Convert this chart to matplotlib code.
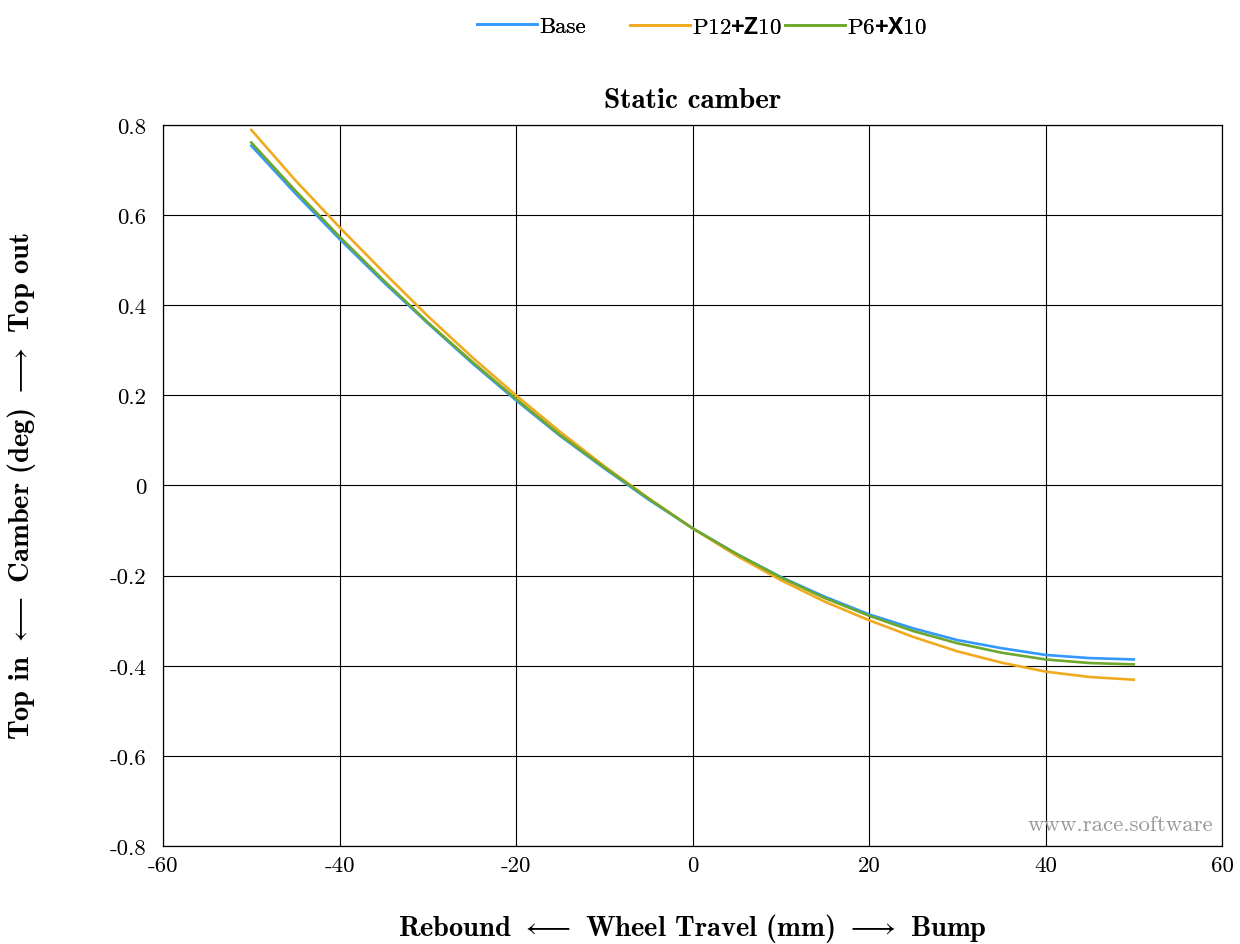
import matplotlib
matplotlib.use("Agg")
import matplotlib.pyplot as plt

plt.rcParams['font.family'] = ['cmr10', 'DejaVu Serif']
plt.rcParams['mathtext.fontset'] = 'custom'
plt.rcParams['mathtext.rm'] = 'cmr10'
plt.rcParams['mathtext.bf'] = 'cmb10'
plt.rcParams['mathtext.sf'] = 'Liberation Sans:bold'
plt.rcParams['mathtext.fallback'] = 'cm'
plt.rcParams['axes.unicode_minus'] = False

travel = [-50, -45, -40, -35, -30, -25, -20, -15, -10, -5, 0, 5, 10, 15, 20, 25, 30, 35, 40, 45, 50]
base = [0.754, 0.648, 0.547, 0.451, 0.360, 0.272, 0.189, 0.110, 0.038, -0.031, -0.095, -0.152, -0.203,
        -0.247, -0.286, -0.317, -0.343, -0.361, -0.376, -0.383, -0.386]
p12z10 = [0.789, 0.677, 0.573, 0.473, 0.376, 0.285, 0.200, 0.119, 0.043, -0.028, -0.095, -0.156, -0.210,
          -0.258, -0.299, -0.336, -0.368, -0.393, -0.413, -0.425, -0.431]
p6x10 = [0.761, 0.654, 0.552, 0.455, 0.362, 0.275, 0.192, 0.112, 0.040, -0.029, -0.095, -0.152, -0.204,
         -0.250, -0.289, -0.323, -0.350, -0.371, -0.386, -0.394, -0.397]

series_labels = ['Base', r'P12$\mathsf{+Z}$10', r'P6$\mathsf{+X}$10']
series_colors = ['#3399FF', '#F0AA1E', '#6DA72B']

xticks = [-60, -40, -20, 0, 20, 40, 60]
xticklabels = ['-60', '-40', '-20', '0', '20', '40', '60']
yticks = [-0.8, -0.6, -0.4, -0.2, 0, 0.2, 0.4, 0.6, 0.8]
yticklabels = ['-0.8', '-0.6', '-0.4', '-0.2', '0', '0.2', '0.4', '0.6', '0.8']

W, H = 1240, 945
fig = plt.figure(figsize=(W / 100, H / 100), dpi=100)
ax = fig.add_axes([0.1315, 0.1037, 0.854, 0.763])

handles = []
for ys, lab, col in zip([base, p12z10, p6x10], series_labels, series_colors):
    h, = ax.plot(travel, ys, color=col, lw=1.9, label=lab)
    handles.append(h)

ax.set_xlim(-60, 60)
ax.set_ylim(-0.8, 0.8)
ax.set_xticks(xticks)
ax.set_xticklabels(xticklabels, fontsize=16.5)
ax.set_yticks(yticks)
ax.set_yticklabels(yticklabels, fontsize=16.5)
ax.tick_params(axis='y', direction='in', length=0, pad=12)
ax.tick_params(axis='x', direction='in', length=0, pad=7)
ax.grid(True, color='black', lw=0.8)
ax.set_axisbelow(True)
for s in ax.spines.values():
    s.set_color('black')
    s.set_linewidth(0.9)

ax.set_title('Static camber', fontsize=21, family=['cmb10'], pad=13)
ax.set_xlabel(r'Rebound $\longleftarrow$ Wheel Travel (mm) $\longrightarrow$ Bump',
              fontsize=20.5, family=['cmb10'], labelpad=26)
ax.set_ylabel(r'Top in $\longleftarrow$ Camber (deg) $\longrightarrow$ Top out',
              fontsize=20.5, family=['cmb10'])
ax.yaxis.set_label_coords((38 - 163) / 1059, 0.5)

ax.text(0.992, 0.016, 'www.race.software', transform=ax.transAxes, ha='right', va='bottom',
        fontsize=16.5, color='#999999')

legend_x = [477, 630, 785]
for h, lab, lx in zip(handles, series_labels, legend_x):
    lg = fig.legend([h], [lab], loc='upper left', bbox_to_anchor=(lx / W, 1 - 17 / H),
                    frameon=False, fontsize=16.5, handlelength=2.6, handletextpad=0.1,
                    borderpad=0, borderaxespad=0)
    fig.add_artist(lg)

fig.savefig('out.png', dpi=100)
